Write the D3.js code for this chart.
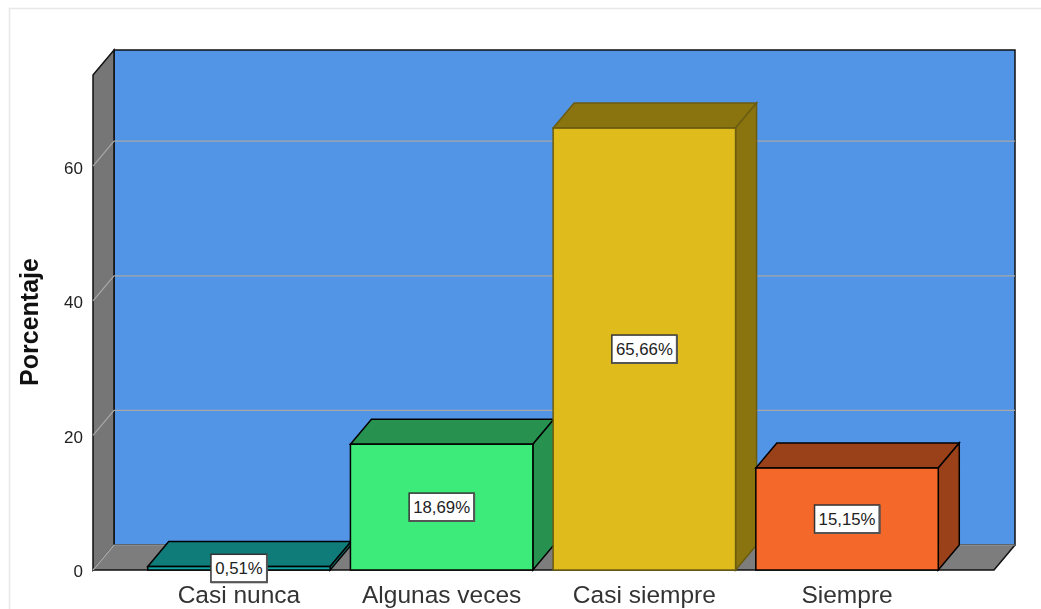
<!DOCTYPE html>
<html>
<head>
<meta charset="utf-8">
<script src="https://cdnjs.cloudflare.com/ajax/libs/d3/7.8.5/d3.min.js"></script>
<style>
  html, body { margin: 0; padding: 0; background: #fff; overflow: hidden; }
  text { font-family: "Liberation Sans", Arial, sans-serif; }
  svg { filter: blur(0.4px); }
</style>
</head>
<body>
<div id="wrapper"></div>
<script>
const categories = ["Casi nunca", "Algunas veces", "Casi siempre", "Siempre"];
const percentages = [0.51, 18.69, 65.66, 15.15];
const valueLabels = ["0,51%", "18,69%", "65,66%", "15,15%"];
const yTicks = [0, 20, 40, 60];
const frontColors = ["#12a5a5", "#3deb7b", "#e0bb1c", "#f4682a"];
const sideColors = ["#0f7c7a", "#27914f", "#8a7410", "#9a4119"];
const edgeColors = ["#000", "#000", "#6b5c10", "#000"];

const width = 1041, height = 609;
const plotLeft = 93, plotRight = 994, plotBottom = 570, plotTop = 75;
const depthX = 21, depthY = 25;

const svg = d3.select("#wrapper").append("svg")
  .attr("width", width)
  .attr("height", height)
  .style("display", "block");

const xScale = d3.scaleBand()
  .domain(categories)
  .range([plotLeft, plotRight - 1])
  .paddingInner(0.1)
  .paddingOuter(0.27);

const yScale = d3.scaleLinear()
  .domain([0, 73.55])
  .range([plotBottom, plotTop]);

const pts = a => a.map(p => p.join(",")).join(" ");

// outer frame
svg.append("path")
  .attr("d", `M9.5,${height} V8.5 H${width}`)
  .attr("fill", "none")
  .attr("stroke", "#e8e8e8")
  .attr("stroke-width", 1.5);

// back wall
svg.append("polygon")
  .attr("points", pts([[plotLeft + depthX, plotTop - depthY], [plotRight + depthX, plotTop - depthY], [plotRight + depthX, plotBottom - depthY], [plotLeft + depthX, plotBottom - depthY]]))
  .attr("fill", "#5294e6")
  .attr("stroke", "#111")
  .attr("stroke-width", 1.5);

// left wall
svg.append("polygon")
  .attr("points", pts([[plotLeft, plotTop], [plotLeft + depthX, plotTop - depthY], [plotLeft + depthX, plotBottom - depthY], [plotLeft, plotBottom]]))
  .attr("fill", "#767676")
  .attr("stroke", "#111")
  .attr("stroke-width", 1.5);

// floor
svg.append("polygon")
  .attr("points", pts([[plotLeft, plotBottom], [plotLeft + depthX, plotBottom - depthY], [plotRight + depthX, plotBottom - depthY], [plotRight, plotBottom]]))
  .attr("fill", "#7d7d7d");
svg.append("path")
  .attr("d", `M${plotLeft},${plotBottom} H${plotRight} L${plotRight + depthX},${plotBottom - depthY}`)
  .attr("fill", "none")
  .attr("stroke", "#111")
  .attr("stroke-width", 1.5);
svg.append("line")
  .attr("x1", plotLeft + depthX).attr("x2", plotRight + depthX)
  .attr("y1", plotBottom - depthY).attr("y2", plotBottom - depthY)
  .attr("stroke", "#9a9a9a");

// gridlines on the walls
yTicks.forEach(t => {
  const y = yScale(t);
  svg.append("path")
    .attr("d", t === 0
      ? `M${plotLeft},${y} L${plotLeft + depthX},${y - depthY}`
      : `M${plotLeft},${y} L${plotLeft + depthX},${y - depthY} H${plotRight + depthX}`)
    .attr("fill", "none")
    .attr("stroke", "#a8a8a8")
    .attr("stroke-width", 1.2);
});

// axes
const yAxis = d3.axisLeft(yScale).tickValues(yTicks).tickSize(0).tickPadding(10);
svg.append("g")
  .attr("transform", `translate(${plotLeft},1.5)`)
  .call(yAxis)
  .call(g => g.select(".domain").remove())
  .call(g => g.selectAll("text").attr("font-size", 17).attr("fill", "#222").attr("font-family", "Liberation Sans"));

const xAxis = d3.axisBottom(xScale).tickSize(0).tickPadding(15.5);
svg.append("g")
  .attr("transform", `translate(0,${plotBottom})`)
  .call(xAxis)
  .call(g => g.select(".domain").remove())
  .call(g => g.selectAll("text").attr("font-size", 24.5).attr("fill", "#333").attr("font-family", "Liberation Sans"));

svg.append("text")
  .attr("transform", "translate(38,322) rotate(-90)")
  .attr("text-anchor", "middle")
  .attr("font-size", 25)
  .attr("font-weight", "bold")
  .attr("fill", "#111")
  .text("Porcentaje");

// bars
const bars = svg.selectAll(".bar")
  .data(categories)
  .join("g")
  .attr("class", "bar");

// top + right side
bars.append("polygon")
  .attr("points", (d, i) => {
    const x = xScale(d), w = xScale.bandwidth(), y = yScale(percentages[i]);
    return pts([[x, y], [x + depthX, y - depthY], [x + w + depthX, y - depthY], [x + w, y]]);
  })
  .attr("fill", (d, i) => sideColors[i])
  .attr("stroke", (d, i) => edgeColors[i])
  .attr("stroke-width", 1.5);

bars.append("polygon")
  .attr("points", (d, i) => {
    const x = xScale(d) + xScale.bandwidth(), y = yScale(percentages[i]);
    return pts([[x, y], [x + depthX, y - depthY], [x + depthX, plotBottom - depthY], [x, plotBottom]]);
  })
  .attr("fill", (d, i) => sideColors[i])
  .attr("stroke", (d, i) => edgeColors[i])
  .attr("stroke-width", 1.5);

// front
bars.append("rect")
  .attr("x", d => xScale(d))
  .attr("y", (d, i) => yScale(percentages[i]))
  .attr("width", xScale.bandwidth())
  .attr("height", (d, i) => plotBottom - yScale(percentages[i]))
  .attr("fill", (d, i) => frontColors[i])
  .attr("stroke", (d, i) => edgeColors[i])
  .attr("stroke-width", 1.5);

// value labels
const labelW = [56, 65, 65, 65];
const labels = svg.selectAll(".value-label")
  .data(categories)
  .join("g")
  .attr("class", "value-label")
  .attr("transform", (d, i) => {
    const cx = xScale(d) + xScale.bandwidth() / 2;
    const cy = (yScale(percentages[i]) + plotBottom) / 2;
    return `translate(${cx},${cy})`;
  });

labels.append("rect")
  .attr("x", (d, i) => -labelW[i] / 2)
  .attr("y", -14)
  .attr("width", (d, i) => labelW[i])
  .attr("height", 28)
  .attr("fill", "#fff")
  .attr("stroke", "#333")
  .attr("stroke-width", 1.5);

// heavier lower edge, as in the original label boxes
labels.append("path")
  .attr("d", (d, i) => `M${-labelW[i] / 2},14 H${labelW[i] / 2} V-14`)
  .attr("fill", "none")
  .attr("stroke", "#555")
  .attr("stroke-width", 2);

labels.append("text")
  .attr("text-anchor", "middle")
  .attr("dy", "0.36em")
  .attr("font-size", 16.8)
  .attr("fill", "#222")
  .text((d, i) => valueLabels[i]);
</script>
</body>
</html>
